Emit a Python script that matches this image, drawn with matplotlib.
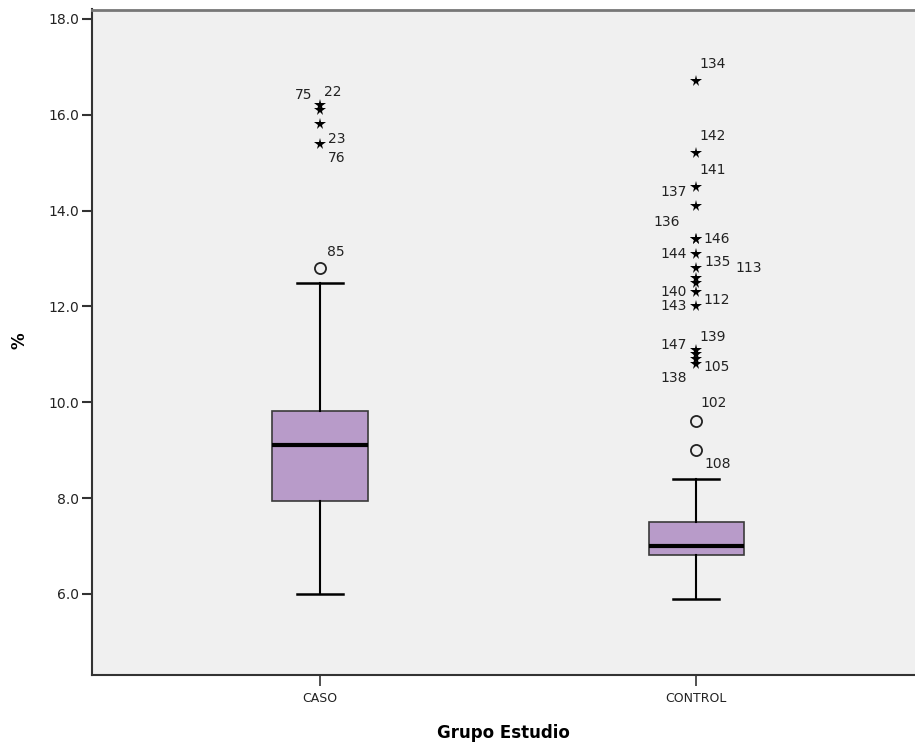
import matplotlib
matplotlib.use('Agg')
import matplotlib.pyplot as plt

# box statistics per group
groups = ['CASO', 'CONTROL']
q1 = [7.95, 6.81]
med = [9.10, 7.00]
q3 = [9.81, 7.50]
whislo = [6.0, 5.9]
whishi = [12.5, 8.4]

# outliers: circles (mild) and stars (extreme)
circ_group = [0, 1, 1]
circ_vals = [12.8, 9.6, 9.0]
circ_ids = ['85', '102', '108']

star_group = [0, 0, 0, 0,
              1, 1, 1, 1, 1, 1, 1, 1, 1, 1, 1, 1, 1, 1, 1, 1]
star_vals = [16.2, 16.1, 15.8, 15.4,
             16.7, 15.2, 14.5, 14.1, 13.4, 13.4, 13.1, 12.8, 12.6, 12.3,
             12.0, 12.5, 11.1, 11.0, 10.8, 10.9]
star_ids = ['75', '22', '23', '76',
            '134', '142', '141', '137', '136', '146', '144', '135', '113',
            '140', '143', '112', '139', '147', '105', '138']

# label offsets in pixels (dx, dy up)
circ_off = [(16, 16), (18, 18), (22, -14)]
star_off = [(-16, 10), (13, 18), (17, -15), (17, -14),
            (17, 17), (17, 17), (17, 17), (-22, 14), (-29, 17), (21, 0),
            (-22, 0), (22, 6), (53, 10), (-22, 0), (-22, 0), (21, -17),
            (17, 13), (-22, 9), (21, -3), (-22, -19)]

BG = '#f0f0f0'
BOX = '#b89bc9'
EDGE = '#3a3a3a'

fig = plt.figure(figsize=(9.15, 7.44), dpi=100)
ax = fig.add_axes([92 / 915, 69 / 744, 823 / 915, 665.5 / 744])
ax.set_facecolor(BG)

pos = [1, 2]
stats = []
for i, g in enumerate(groups):
    stats.append(dict(label=g, q1=q1[i], med=med[i], q3=q3[i],
                      whislo=whislo[i], whishi=whishi[i], fliers=[]))

ax.bxp(stats, positions=pos, widths=0.253, patch_artist=True,
       showfliers=False,
       boxprops=dict(facecolor=BOX, edgecolor=EDGE, linewidth=1.2),
       medianprops=dict(color='black', linewidth=3),
       whiskerprops=dict(color='black', linewidth=1.5),
       capprops=dict(color='black', linewidth=1.8),
       capwidths=0.122)

cx = [pos[g] for g in circ_group]
sx = [pos[g] for g in star_group]
ax.plot(cx, circ_vals, 'o', ms=8, mfc='none', mec='#222222', mew=1.3)
ax.plot(sx, star_vals, '*', ms=8.5, color='black', mew=0)

for x, v, t, o in zip(cx, circ_vals, circ_ids, circ_off):
    ax.annotate(t, (x, v), xytext=o, textcoords='offset pixels',
                ha='center', va='center', fontsize=10, color='#222222')
for x, v, t, o in zip(sx, star_vals, star_ids, star_off):
    ax.annotate(t, (x, v), xytext=o, textcoords='offset pixels',
                ha='center', va='center', fontsize=10, color='#222222')

ax.set_xlim(0.394, 2.582)
ax.set_ylim(4.309, 18.198)
ax.set_yticks([6, 8, 10, 12, 14, 16, 18])
ax.set_yticklabels(['%.1f' % t for t in [6, 8, 10, 12, 14, 16, 18]])
ax.set_xticks(pos)
ax.set_xticklabels(groups)

ax.spines['right'].set_visible(False)
ax.spines['top'].set_color('#777777')
ax.spines['top'].set_linewidth(2)
for s in ['left', 'bottom']:
    ax.spines[s].set_color('#333333')
    ax.spines[s].set_linewidth(1.5)

ax.tick_params(axis='y', length=7, width=1.5, color='#333333',
               labelsize=10, labelcolor='#222222', pad=2)
ax.tick_params(axis='x', length=8, width=1.2, color='#333333',
               labelsize=9, labelcolor='#222222', pad=4)

ax.set_xlabel('Grupo Estudio', fontsize=12, fontweight='bold', labelpad=14)
ax.set_ylabel('%', fontsize=12, fontweight='bold')
ax.yaxis.set_label_coords(-0.077, 0.503)

fig.savefig('out.png', dpi=100)
